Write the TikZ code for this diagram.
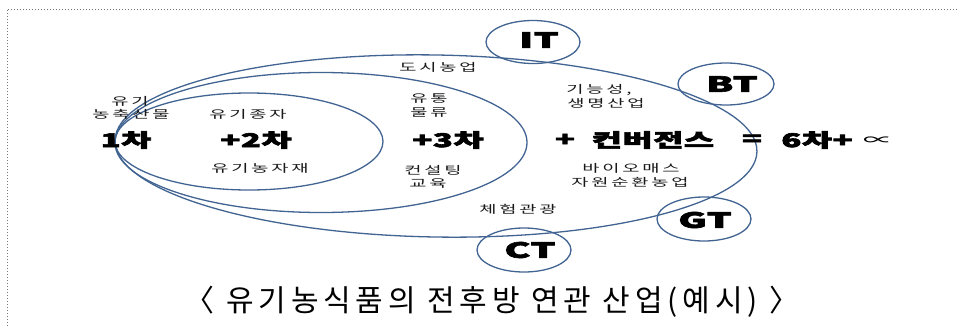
\documentclass[tikz,border=0pt]{standalone}
\usetikzlibrary{shapes.geometric}
\usepackage{graphicx}
\usepackage{fontspec}
\setmainfont{Noto Sans CJK KR}
\newfontfamily\lbl{Noto Sans CJK KR}[LetterSpace=15]
\newfontfamily\bigf{Noto Sans CJK KR}[LetterSpace=2, BoldFeatures={FakeBold=3}]
\newfontfamily\capf{Noto Sans CJK KR}[LetterSpace=16]
\newcommand\wl[1]{\scalebox{1.7}[1]{#1}}
\newcommand\wb[1]{\scalebox{1.72}[1]{#1}}
\newcommand\wt[1]{\scalebox{1.85}[1]{#1}}
\definecolor{ringblue}{RGB}{66,100,146}
\tikzset{
  ring/.style={draw=ringblue, line width=1.3pt},
  lab/.style={font=\lbl\fontsize{11}{13}\selectfont, inner sep=0pt, text=black!90},
  big/.style={font=\bigf\bfseries\fontsize{19}{21}\selectfont, inner sep=0pt},
  tag/.style={font=\bigf\bfseries\fontsize{21}{23}\selectfont, inner sep=0pt},
  frame/.style={draw=black!55, line width=0.8pt, dash pattern=on 0.9pt off 2.1pt}
}
\begin{document}
\begin{tikzpicture}[x=1pt,y=-1pt]
\useasboundingbox (0,0) rectangle (963,327);
% dotted frame (top and left edges)
\coordinate (tl) at (7,9);
\coordinate (tr) at (957,9);
\coordinate (bl) at (7,327);
\draw[frame] (tr) -- (tl) -- (bl);
% nested ellipses
\draw[ring] (249,141.5) ellipse [x radius=134, y radius=48.5];
\draw[ring] (321,142.5) ellipse [x radius=206, y radius=70];
\draw[ring, rotate around={-1:(436,146)}] (436,146) ellipse [x radius=321, y radius=91];
% small technology ellipses
\node[ring, ellipse, minimum width=94pt, minimum height=43pt, inner sep=0pt] (it) at (533,42) {};
\node[ring, ellipse, minimum width=96pt, minimum height=42pt, inner sep=0pt] (bt) at (726,84) {};
\node[ring, ellipse, minimum width=94pt, minimum height=44pt, inner sep=0pt] (gt) at (704,219) {};
\node[ring, ellipse, minimum width=94pt, minimum height=44pt, inner sep=0pt] (ct) at (524,250) {};
\node[tag] (itl) at (539,40) {\wt{IT}};
\node[tag] (btl) at (732,84) {\wt{BT}};
\node[tag] (gtl) at (705,220) {\wt{GT}};
\node[tag] (ctl) at (530,250) {\wt{CT}};
% small labels
\node[lab] (l1) at (130,101) {\wl{유기}};
\node[lab] (l2) at (131,114) {\wl{농축산물}};
\node[lab] (l3) at (248,114) {\wl{유기종자}};
\node[lab] (l4) at (260,168) {\wl{유기농자재}};
\node[lab] (l5) at (438,67) {\wl{도시농업}};
\node[lab] (l6) at (429,99) {\wl{유통}};
\node[lab] (l7) at (429,113) {\wl{물류}};
\node[lab] (l8) at (433,170) {\wl{컨설팅}};
\node[lab] (l9) at (428,183) {\wl{교육}};
\node[lab] (l10) at (599,90) {\wl{기능성,}};
\node[lab] (l11) at (606,103) {\wl{생명산업}};
\node[lab] (l12) at (631,168) {\wl{바이오매스}};
\node[lab] (l13) at (630,182) {\wl{자원순환농업}};
\node[lab] (l14) at (518,209) {\wl{체험관광}};
% big formula
\node[big] (b1) at (126,140) {\wb{1차}};
\node[big] (b2) at (256,140) {\wb{+2차}};
\node[big] (b3) at (448,140) {\wb{+3차}};
\node[big] (b4) at (565,140) {\wb{+}};
\node[big] (b5) at (653,140) {\wb{컨버전스}};
\node[big] (b6) at (752,140) {\wb{=}};
\node[big] (b7) at (817,140) {\wb{6차+}};
\node[font=\fontsize{15}{16}\selectfont, inner sep=0pt] (b8) at (878,141) {\scalebox{2}[1]{∝}};
% caption
\node[font=\capf\fontsize{30}{32}\selectfont, inner sep=0pt] (cap) at (492,302) {〈 유기농식품의 전후방 연관 산업(예시) 〉};
\end{tikzpicture}
\end{document}
